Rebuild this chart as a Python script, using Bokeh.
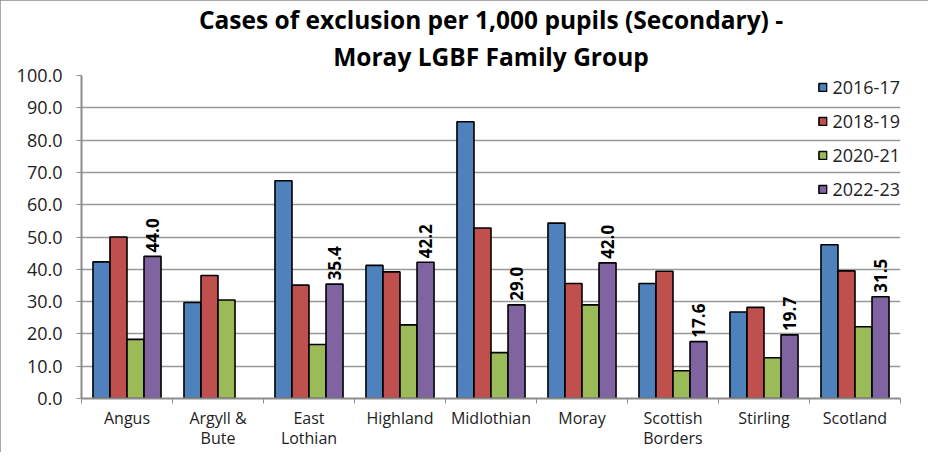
import numpy as np
from bokeh.plotting import figure
from bokeh.models import ColumnDataSource, FixedTicker, Title, Legend, LegendItem, LabelSet
from bokeh.core.properties import value
from bokeh.embed import file_html
from bokeh.resources import INLINE

categories = ["Angus", "Argyll &\nBute", "East\nLothian", "Highland", "Midlothian",
              "Moray", "Scottish\nBorders", "Stirling", "Scotland"]
years = ["2016-17", "2018-19", "2020-21", "2022-23"]
v2016 = [42.3, 29.7, 67.4, 41.2, 85.7, 54.3, 35.6, 26.8, 47.6]
v2018 = [50.0, 38.1, 35.1, 39.2, 52.8, 35.6, 39.4, 28.2, 39.5]
v2020 = [18.3, 30.5, 16.7, 22.8, 14.2, 29.0, 8.6, 12.6, 22.2]
v2022 = [44.0, None, 35.4, 42.2, 29.0, 42.0, 17.6, 19.7, 31.5]
colors = ["#4F81BD", "#C0504D", "#9BBB59", "#8064A2"]
y_ticks = [0, 10, 20, 30, 40, 50, 60, 70, 80, 90, 100]
title_lines = ["Cases of exclusion per 1,000 pupils (Secondary) -", "Moray LGBF Family Group"]

FONT = "Open Sans"
p = figure(width=928, height=452, output_backend="svg", toolbar_location=None,
           x_range=(0, len(categories)), y_range=(0, 100),
           min_border_left=81, min_border_right=28, min_border_top=73, min_border_bottom=48)
p.styles = {"outline": "2px solid #8c8c8c", "outline-offset": "-2px"}
p.outline_line_color = None
p.background_fill_color = "white"

n = len(categories)
centers = np.arange(n) + 0.5
w = 0.187
series = [v2016, v2018, v2020, v2022]
items = []
for k, (vals, col, yr) in enumerate(zip(series, colors, years)):
    xs = centers + (k - 1.5) * w
    tops = [np.nan if v is None else v for v in vals]
    src = ColumnDataSource(dict(x=xs, top=tops))
    r = p.vbar(x="x", top="top", width=w, bottom=0, source=src, fill_color=col,
               line_color="black", line_width=1.6)
    items.append(LegendItem(label=yr, renderers=[r]))
    if k == 3:
        lx = [x for x, v in zip(xs, vals) if v is not None]
        ly = [v for v in vals if v is not None]
        lt = ["%.1f" % v for v in ly]
        lsrc = ColumnDataSource(dict(x=lx, y=ly, t=lt))
        p.add_layout(LabelSet(x="x", y="y", text="t", source=lsrc, angle=np.pi / 2,
                              x_offset=0, y_offset=4, text_align="left", text_baseline="middle",
                              text_font=value(FONT), text_font_size="17px",
                              text_font_style="bold", text_color="black"))

legend = Legend(items=items, location="top_right", border_line_color=None,
                background_fill_alpha=0, label_text_font=FONT, label_text_font_size="18px",
                label_text_color="#222222", glyph_width=10, glyph_height=10,
                label_height=22, spacing=10, padding=1, margin=0, label_standoff=5)
p.add_layout(legend)

# axes
p.yaxis.ticker = FixedTicker(ticks=y_ticks)
p.yaxis.major_label_overrides = {t: "%.1f" % t for t in y_ticks}
p.yaxis.minor_tick_line_color = None
p.yaxis.axis_line_color = "#8c8c8c"
p.yaxis.axis_line_width = 2
p.yaxis.major_tick_line_color = "#8c8c8c"
p.yaxis.major_tick_in = 0
p.yaxis.major_tick_out = 5
p.yaxis.major_label_standoff = 14
p.yaxis.major_label_text_font = FONT
p.yaxis.major_label_text_font_size = "18px"
p.yaxis.major_label_text_color = "#222222"

p.xaxis.ticker = FixedTicker(ticks=list(centers), minor_ticks=list(range(n + 1)))
p.xaxis.major_label_overrides = {float(c): lab for c, lab in zip(centers, categories)}
p.xaxis.major_tick_line_color = None
p.xaxis.major_tick_out = 0
p.xaxis.major_tick_in = 0
p.xaxis.minor_tick_line_color = "#8c8c8c"
p.xaxis.minor_tick_in = 0
p.xaxis.minor_tick_out = 5
p.xaxis.axis_line_color = "#8c8c8c"
p.xaxis.axis_line_width = 2
p.xaxis.major_label_standoff = 3
p.xaxis.major_label_text_font = FONT
p.xaxis.major_label_text_font_size = "16px"
p.xaxis.major_label_text_line_height = 0.95
p.xaxis.major_label_text_color = "#222222"

p.xgrid.grid_line_color = None
p.ygrid.grid_line_color = "#999999"
p.ygrid.grid_line_width = 1.5
p.ygrid.ticker = FixedTicker(ticks=y_ticks)

p.add_layout(Title(text=title_lines[1], align="center", text_font=FONT,
                   text_font_size="24.5px", text_font_style="bold", text_color="black",
                   standoff=5), "above")
p.add_layout(Title(text=title_lines[0], align="center", text_font=FONT,
                   text_font_size="24.5px", text_font_style="bold", text_color="black",
                   standoff=0), "above")

open("out.html", "w").write(file_html(p, INLINE))
